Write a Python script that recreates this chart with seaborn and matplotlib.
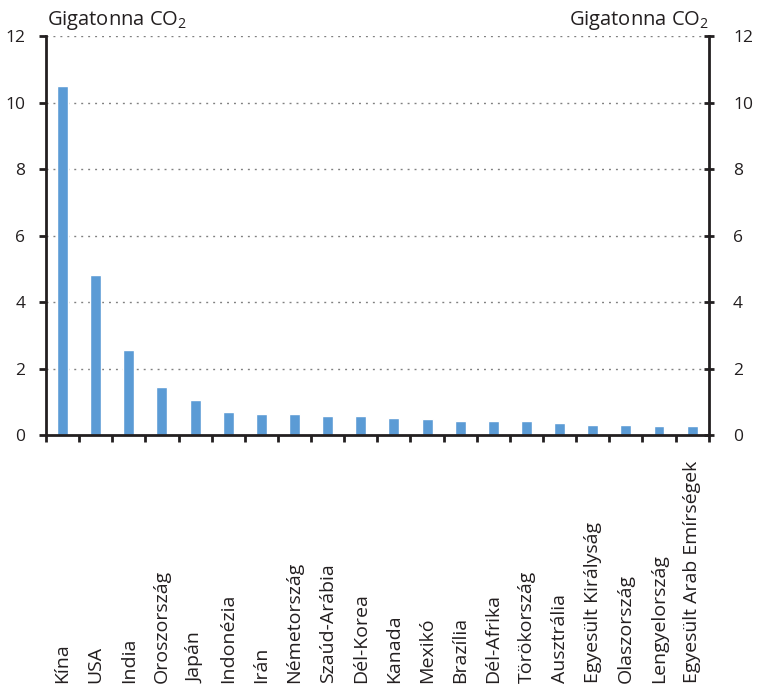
import matplotlib
matplotlib.use("Agg")
from matplotlib import pyplot as plt
from matplotlib import transforms
import numpy as np
import pandas as pd
import seaborn as sns

countries = ["Kína", "USA", "India", "Oroszország", "Japán", "Indonézia", "Irán",
             "Németország", "Szaúd-Arábia", "Dél-Korea", "Kanada", "Mexikó",
             "Brazília", "Dél-Afrika", "Törökország", "Ausztrália",
             "Egyesült Királyság", "Olaszország", "Lengyelország",
             "Egyesült Arab Emírségek"]
emissions = [10.5, 4.83, 2.57, 1.45, 1.06, 0.70, 0.64, 0.64, 0.58, 0.58, 0.53,
             0.48, 0.43, 0.43, 0.43, 0.37, 0.31, 0.31, 0.27, 0.27]
yticks = [0, 2, 4, 6, 8, 10, 12]
unit = "Gigatonna CO$_2$"

sns.set_style("white")
plt.rcParams['font.family'] = ['Open Sans', 'DejaVu Sans']
plt.rcParams['mathtext.fontset'] = 'custom'
plt.rcParams['mathtext.rm'] = 'Open Sans'
plt.rcParams['mathtext.it'] = 'Open Sans'
plt.rcParams['mathtext.default'] = 'rm'
txt = "#231f20"
bar_color = "#5b9bd5"

df = pd.DataFrame({"country": countries, "value": emissions})

fig = plt.figure(figsize=(7.6, 6.91), dpi=100)
ax = fig.add_axes([0.0605, 0.3698, 0.872, 0.578])
sns.barplot(data=df, x="country", y="value", color=bar_color, width=0.33,
            saturation=1, ax=ax)

ax.set_xlim(-0.5, len(countries) - 0.5)
ax.set_ylim(0, 12)
ax.set_yticks(yticks)
ax.set_xlabel("")
ax.set_ylabel("")

# dotted grid lines (not at zero)
for yv in yticks[1:]:
    ax.axhline(yv, color="#808080", lw=1, ls=(0, (1.4, 3.6)), zorder=0)

for s in ["left", "right", "bottom"]:
    ax.spines[s].set_visible(True)
    ax.spines[s].set_color(txt)
    ax.spines[s].set_linewidth(2)
ax.spines["top"].set_visible(False)

# x ticks at category boundaries, labels placed at the bottom
ax.set_xticks(np.arange(len(countries)))
ax.set_xticklabels([])
ax.tick_params(axis="x", which="major", length=0)
ax.set_xticks(np.arange(len(countries) + 1) - 0.5, minor=True)
ax.tick_params(axis="x", which="minor", length=5, width=2, color=txt,
               direction="out", bottom=True)
trans = transforms.blended_transform_factory(ax.transData, fig.transFigure)
for i, c in enumerate(countries):
    ax.text(i, 0.012, c, rotation=90, ha="center", va="bottom",
            fontsize=14, color=txt, transform=trans)

ax.tick_params(axis="y", length=5, width=2, color=txt, direction="out",
               labelsize=12.5, labelcolor=txt, pad=10)

ax2 = ax.twinx()
ax2.set_ylim(0, 12)
ax2.set_yticks(yticks)
ax2.tick_params(axis="y", length=7, width=2, color=txt, direction="inout",
                labelsize=12.5, labelcolor=txt, pad=14)
for s in ax2.spines.values():
    s.set_visible(False)
ax2.grid(False)

fig.text(0.062, 0.964, unit, fontsize=14.5, color=txt, ha="left", va="baseline")
fig.text(0.933, 0.964, unit, fontsize=14.5, color=txt, ha="right", va="baseline")

fig.savefig("out.png", dpi=100)
